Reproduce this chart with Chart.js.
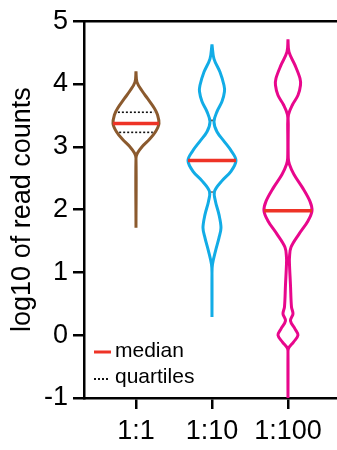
<!DOCTYPE html>
<html><head><meta charset="utf-8">
<script src="https://cdn.jsdelivr.net/npm/chart.js@4.4.0/dist/chart.umd.min.js"></script>
<style>html,body{margin:0;padding:0;background:#fff}#wrap{width:337px;height:450px}</style>
</head><body><div id="wrap"><canvas id="c" width="337" height="450"></canvas></div>
<script>
// ---- data ----
const categories = ['1:1', '1:10', '1:100'];
const yTicks = [-1, 0, 1, 2, 3, 4, 5];

// kernel density outlines: y level (log10 read counts) and relative density (half width)
const levels_1_1   = [4.20, 4.03, 3.88, 3.77, 3.61, 3.51, 3.37, 3.24, 3.12, 3.01, 2.90, 2.82, 1.71];
const density_1_1  = [0, 1, 6.5, 11.5, 18.5, 21.5, 23, 19.5, 13.5, 6.5, 1.5, 0, 0];

const levels_1_10  = [4.63, 4.40, 4.19, 3.98, 3.88, 3.72, 3.56, 3.40, 3.24, 3.08, 2.93, 2.78, 2.61, 2.45, 2.29, 2.13, 1.92, 1.71, 1.55, 1.34, 1.13, 0.98, 0.29];
const density_1_10 = [0, 2, 8, 12, 12.5, 10, 5, 2, 5, 12.5, 19.5, 24, 19, 9.5, 2.5, 3.5, 7, 9, 7, 3.5, 0.5, 0, 0];

const levels_1_100  = [4.71, 4.51, 4.30, 4.09, 3.98, 3.82, 3.67, 3.51, 3.35, 2.82, 2.72, 2.56, 2.35, 2.13, 1.98, 1.82, 1.61, 1.40, 1.24, 1.13, 0.80, 0.45, 0.34, 0.23, 0.10, 0.00, -0.11, -0.21, -0.30, -1.0];
const density_1_100 = [0, 1, 7, 12, 12.5, 10, 4.5, 0.5, 0.3, 0.3, 1.5, 6, 14.5, 22, 24, 20, 11, 3, 1.5, 1.5, 2.5, 3.5, 5, 2.5, 7, 10, 5.5, 0.5, 0, 0];

const medians = [3.37, 2.78, 1.98];
const quartiles_1_1  = [3.23, 3.55];
const quartiles_1_10 = [2.28, 3.42];
const quartiles_1_100 = [];

// ---- styling ----
const colors = ['#8B5A2E', '#12ACE6', '#E8078C'];
const MEDIAN_COLOR = '#EE3326';
const FONT = "'Liberation Sans', Arial, Helvetica, sans-serif";
const DENS_SCALE = 1 / 76; // density units -> x-axis units

const violins = [
  {levels: levels_1_1, dens: density_1_1, q: quartiles_1_1},
  {levels: levels_1_10, dens: density_1_10, q: quartiles_1_10},
  {levels: levels_1_100, dens: density_1_100, q: quartiles_1_100},
];

function densAt(v, y) {
  const L = v.levels, D = v.dens;
  for (let i = 0; i < L.length - 1; i++) {
    if ((y <= L[i] && y >= L[i + 1])) {
      const t = (L[i] - y) / (L[i] - L[i + 1]);
      return D[i] + t * (D[i + 1] - D[i]);
    }
  }
  return 0;
}

const datasets = [];
violins.forEach((v, i) => {
  const pos = i + 1;
  const pts = [];
  for (let k = 0; k < v.levels.length; k++) pts.push({x: pos + v.dens[k] * DENS_SCALE, y: v.levels[k]});
  for (let k = v.levels.length - 1; k >= 0; k--) pts.push({x: pos - v.dens[k] * DENS_SCALE, y: v.levels[k]});
  datasets.push({
    label: categories[i], data: pts, showLine: true, borderColor: colors[i],
    borderWidth: 3, pointRadius: 0, tension: 0.35, fill: false, order: 3
  });
});
violins.forEach((v, i) => {
  const pos = i + 1;
  v.q.forEach(qv => {
    const w = Math.max(densAt(v, qv) - 2.2, 0.6) * DENS_SCALE;
    datasets.push({
      label: 'quartile', data: [{x: pos - w, y: qv}, {x: pos + w, y: qv}], showLine: true,
      borderColor: '#111', borderWidth: 1.6, borderDash: [2, 2], pointRadius: 0, tension: 0, order: 2
    });
  });
  const m = medians[i];
  const w = densAt(v, m) * DENS_SCALE;
  datasets.push({
    label: 'median', data: [{x: pos - w, y: m}, {x: pos + w, y: m}], showLine: true,
    borderColor: MEDIAN_COLOR, borderWidth: 3.5, pointRadius: 0, tension: 0, order: 1
  });
});

const legendPlugin = {
  id: 'insideLegend',
  afterDatasetsDraw(chart) {
    const {ctx, chartArea} = chart;
    const x0 = chartArea.left + 10;
    const yM = chartArea.bottom - 47, yQ = chartArea.bottom - 21;
    ctx.save();
    ctx.strokeStyle = MEDIAN_COLOR; ctx.lineWidth = 3;
    ctx.beginPath(); ctx.moveTo(x0, yM + 1); ctx.lineTo(x0 + 17, yM + 1); ctx.stroke();
    ctx.strokeStyle = '#111'; ctx.lineWidth = 2; ctx.setLineDash([2, 2]);
    ctx.beginPath(); ctx.moveTo(x0, yQ + 2); ctx.lineTo(x0 + 14, yQ + 2); ctx.stroke();
    ctx.setLineDash([]);
    ctx.fillStyle = '#000'; ctx.font = '21px ' + FONT; ctx.textBaseline = 'middle'; ctx.textAlign = 'left';
    ctx.fillText('median', x0 + 21, yM);
    ctx.fillText('quartiles', x0 + 21, yQ);
    ctx.restore();
  }
};

new Chart(document.getElementById('c'), {
  type: 'scatter',
  data: {datasets},
  plugins: [legendPlugin],
  options: {
    responsive: false, devicePixelRatio: 1, animation: false,
    layout: {padding: {left: 0, right: 0, top: 0, bottom: 0}},
    plugins: {legend: {display: false}, tooltip: {enabled: false}},
    scales: {
      x: {
        type: 'linear', position: 'bottom', min: 0.316, max: 3.645,
        afterBuildTicks: s => { s.ticks = categories.map((c, i) => ({value: i + 1})); },
        afterFit: s => { s.height = 52; },
        ticks: {callback: v => categories[v - 1] || '', font: {family: FONT, size: 27}, color: '#000', padding: 6, maxRotation: 0},
        grid: {display: true, drawOnChartArea: false, drawTicks: true, tickLength: 11, color: '#000', lineWidth: 2.5},
        border: {display: true, color: '#000', width: 2.5}
      },
      xTop: {
        type: 'linear', position: 'top', display: true, min: 0, max: 1,
        afterFit: s => { s.height = 19; },
        ticks: {display: false},
        grid: {display: false, drawTicks: false},
        border: {display: true, color: '#000', width: 2.5}
      },
      y: {
        type: 'linear', position: 'left', min: -1, max: 5,
        afterBuildTicks: s => { s.ticks = yTicks.map(v => ({value: v})); },
        afterFit: s => { s.width = 84; },
        ticks: {font: {family: FONT, size: 27}, color: '#000', padding: 5},
        grid: {display: true, drawOnChartArea: false, drawTicks: true, tickLength: 11, color: '#000', lineWidth: 2.5},
        border: {display: true, color: '#000', width: 2.5},
        title: {display: true, text: 'log10 of read counts', font: {family: FONT, size: 27}, color: '#000', padding: {top: 6, bottom: 0}}
      }
    }
  }
});
</script></body></html>
